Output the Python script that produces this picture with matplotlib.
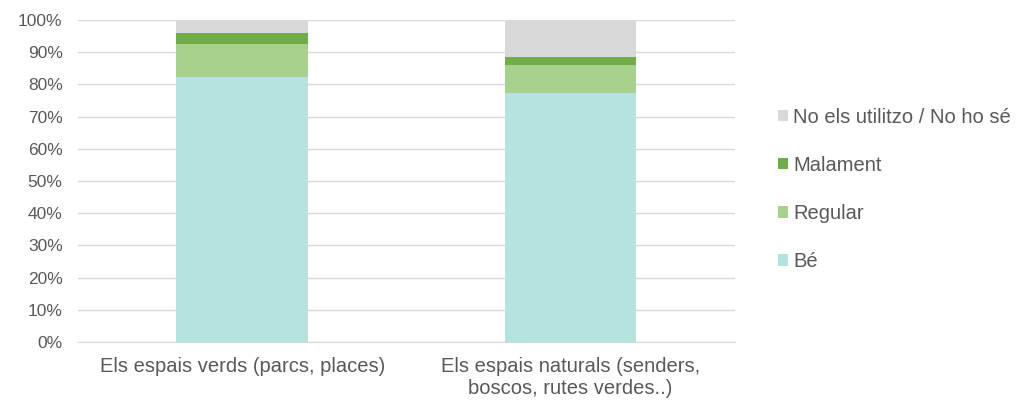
import numpy as np
import matplotlib.pyplot as plt

plt.rcParams['font.family'] = ['Liberation Sans', 'DejaVu Sans']

categories = ['Els espais verds (parcs, places)',
              'Els espais naturals (senders,\nboscos, rutes verdes..)']
series = ['Bé', 'Regular', 'Malament', 'No els utilitzo / No ho sé']
be = [82.3, 77.4]
regular = [10.3, 8.6]
malament = [3.4, 2.5]
no_ho_se = [4.0, 11.5]
colors = ['#B5E4DE', '#A9D18E', '#70AD47', '#D9D9D9']

fig = plt.figure(figsize=(10.25, 4), dpi=100)
ax = fig.add_axes([0.076, 0.145, 0.641, 0.805])

x = np.arange(len(categories))
bottom = np.zeros(len(categories))
handles = []
for vals, name, c in zip([be, regular, malament, no_ho_se], series, colors):
    h = ax.bar(x, vals, 0.4, bottom=bottom, color=c, label=name, zorder=3)
    handles.append(h)
    bottom += np.array(vals)

ax.set_xlim(-0.5, 1.5)
ax.set_ylim(0, 100)
ax.set_yticks(range(0, 101, 10))
ax.set_yticklabels([f'{v}%' for v in range(0, 101, 10)])
ax.set_xticks(x)
ax.set_xticklabels(categories, fontsize=14.5)
ax.yaxis.grid(True, color='#D9D9D9', linewidth=1, zorder=0)
for s in ['top', 'right', 'left']:
    ax.spines[s].set_visible(False)
ax.spines['bottom'].set_color('#D9D9D9')
ax.tick_params(axis='both', length=0, colors='#595959')
ax.tick_params(axis='y', labelsize=12.5, pad=11)
ax.tick_params(axis='x', pad=11)

leg = ax.legend(handles[::-1], series[::-1], loc='center left',
                bbox_to_anchor=(1.038, 0.474), frameon=False, fontsize=14.5,
                handlelength=0.5, handleheight=0.5, handletextpad=0.25,
                labelspacing=1.45)
for t in leg.get_texts():
    t.set_color('#595959')

fig.savefig('out.png', dpi=100)
